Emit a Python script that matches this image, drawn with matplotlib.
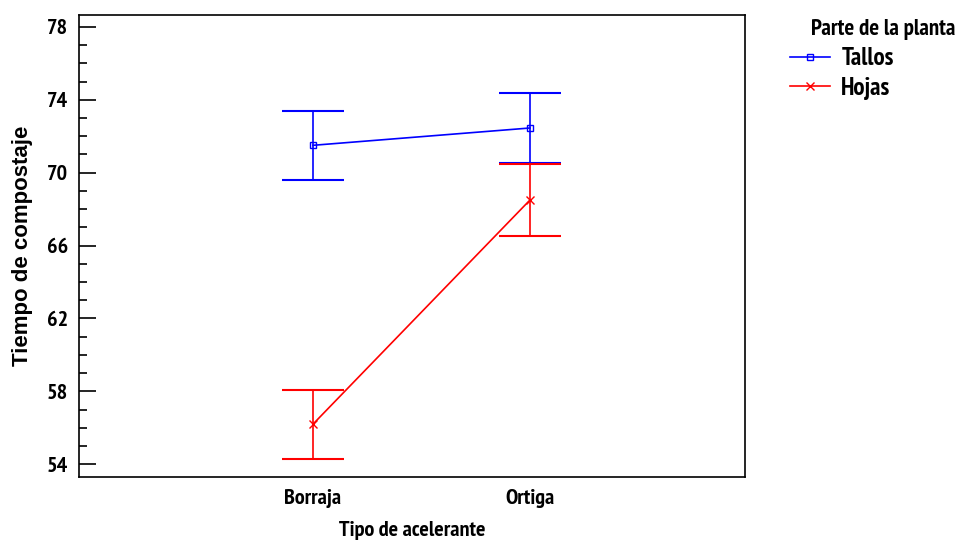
import matplotlib
matplotlib.use("Agg")
import matplotlib.pyplot as plt
from matplotlib.ticker import MultipleLocator
from matplotlib.lines import Line2D

categories = ["Borraja", "Ortiga"]
tallos = [71.5, 72.45]
hojas = [56.2, 68.5]
tallos_err = [1.9, 1.93]
hojas_err = [1.9, 2.0]
yticks = [54, 58, 62, 66, 70, 74, 78]

plt.rcParams['font.family'] = ['PT Sans Narrow', 'Liberation Sans', 'DejaVu Sans']
plt.rcParams['font.weight'] = 'bold'

fig = plt.figure(figsize=(9.59, 5.41), dpi=100)
ax = fig.add_axes([79/959, 64/541, (745-79)/959, (477-15)/541])

x = [1, 2]
blue = '#0000ff'
red = '#ff0000'
ax.errorbar(x, tallos, yerr=tallos_err, color=blue, lw=1.2, marker='s', ms=5,
            mfc='none', mec=blue, capsize=22, capthick=1.5, elinewidth=1.2)
ax.errorbar(x, hojas, yerr=hojas_err, color=red, lw=1.2, marker='x', ms=6,
            mec=red, capsize=22, capthick=1.5, elinewidth=1.2)

ax.set_xlim(1 - 234/217, 2 + 215/217)
ax.set_ylim(53.3, 78.65)
ax.set_xticks(x)
ax.set_xticklabels(categories, fontsize=16, fontweight='bold')
ax.set_yticks(yticks)
ax.set_yticklabels([str(v) for v in yticks], fontsize=16, fontweight='bold')
ax.yaxis.set_minor_locator(MultipleLocator(1))
ax.tick_params(axis='y', which='major', direction='in', length=12, width=1.2)
ax.tick_params(axis='y', which='minor', direction='in', length=6, width=1.2)
ax.tick_params(axis='x', which='both', length=0, pad=9)
ax.tick_params(axis='y', pad=8)
for s in ax.spines.values():
    s.set_linewidth(1.2)

ax.set_xlabel("Tipo de acelerante", fontsize=16, fontweight='bold', labelpad=9)
ax.set_ylabel("Tiempo de compostaje", fontsize=16, fontweight='bold', labelpad=10,
              family=['Liberation Sans', 'DejaVu Sans'])

handles = [Line2D([], [], color=blue, lw=1.2, marker='s', ms=5, mfc='none', mec=blue),
           Line2D([], [], color=red, lw=1.2, marker='x', ms=6, mec=red)]
leg = ax.legend(handles, ["Tallos", "Hojas"], loc='upper left', bbox_to_anchor=(1.0676, 0.93),
                frameon=False, fontsize=18, handlelength=1.6, handletextpad=0.45,
                borderaxespad=0, borderpad=0, labelspacing=0.25)
fig.text(955/959, 1 - 29/541, "Parte de la planta", ha='right', va='center',
         fontsize=16.5, fontweight='bold')

fig.savefig("out.png", dpi=100)
